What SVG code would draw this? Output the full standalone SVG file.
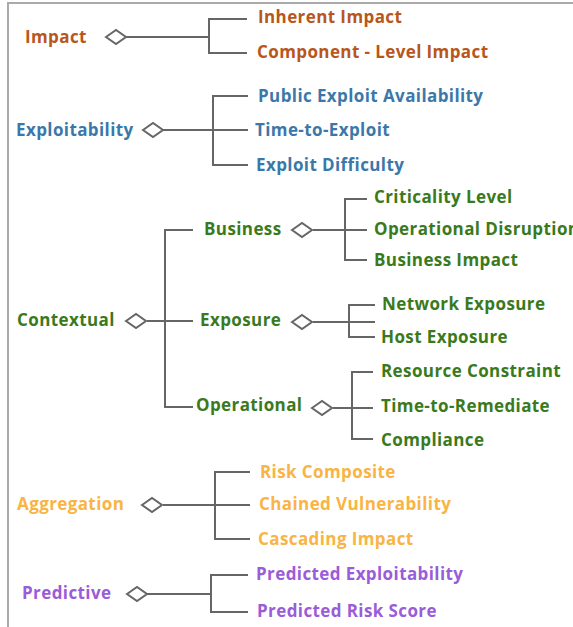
<svg xmlns="http://www.w3.org/2000/svg" width="573" height="627" viewBox="0 0 573 627">
<style>
text{font-family:"Open Sans",Lato,"Liberation Sans",sans-serif;font-weight:bold;font-size:17px;letter-spacing:0.4px;dominant-baseline:central}
.ln{fill:none;stroke:#666;stroke-width:2}
.dm{fill:#fff;stroke:#666;stroke-width:2}
.or{fill:#B8561C}.bl{fill:#3B78A9}.gr{fill:#3A7A1C}.ye{fill:#F8B444}.pu{fill:#9A5CD8}
</style>
<rect width="573" height="627" fill="#fff"/>
<path d="M8 627V3H573" fill="none" stroke="#aaa" stroke-width="2"/>
<g id="connectors">
<path class="ln" d="M126 37H209M247 19H209V53H247"/>
<path class="ln" d="M163 130H248M248 96H213V165H248"/>
<path class="ln" d="M147 321H193M193 230H165V407H193"/>
<path class="ln" d="M313 230H367M367 199H345V260H367"/>
<path class="ln" d="M313 322H375M375 305H349V337H375"/>
<path class="ln" d="M333 408H373M373 372H352V439H373"/>
<path class="ln" d="M163 505H250M250 472H215V539H250"/>
<path class="ln" d="M147 594H211M248 575H211V612H248"/>
</g>
<g id="impact"><text class="or" x="25" y="36">Impact</text><path class="dm" d="M106 37L116 30L126 37L116 44Z"/></g>
<g id="inherent-impact"><text class="or" x="258" y="16">Inherent Impact</text></g>
<g id="component-level-impact"><text class="or" x="257" y="51">Component - Level Impact</text></g>
<g id="exploitability"><text class="bl" x="16" y="129">Exploitability</text><path class="dm" d="M143 130L153 123L163 130L153 137Z"/></g>
<g id="public-exploit"><text class="bl" x="258" y="95">Public Exploit Availability</text></g>
<g id="time-to-exploit"><text class="bl" x="255" y="129">Time-to-Exploit</text></g>
<g id="exploit-difficulty"><text class="bl" x="256" y="164">Exploit Difficulty</text></g>
<g id="contextual"><text class="gr" x="17" y="319">Contextual</text><path class="dm" d="M126 321L136 314L146 321L136 328Z"/></g>
<g id="business"><text class="gr" x="204" y="228">Business</text><path class="dm" d="M292 230L302 223L312 230L302 237Z"/></g>
<g id="criticality"><text class="gr" x="374" y="196">Criticality Level</text></g>
<g id="operational-disruption"><text class="gr" x="374" y="228">Operational Disruption</text></g>
<g id="business-impact"><text class="gr" x="374" y="259">Business Impact</text></g>
<g id="exposure"><text class="gr" x="200" y="319">Exposure</text><path class="dm" d="M292 322L302 315L312 322L302 329Z"/></g>
<g id="network-exposure"><text class="gr" x="382" y="303">Network Exposure</text></g>
<g id="host-exposure"><text class="gr" x="381" y="336">Host Exposure</text></g>
<g id="operational"><text class="gr" x="196" y="404">Operational</text><path class="dm" d="M312 408L322 401L332 408L322 415Z"/></g>
<g id="resource-constraint"><text class="gr" x="381" y="370">Resource Constraint</text></g>
<g id="time-to-remediate"><text class="gr" x="381" y="405">Time-to-Remediate</text></g>
<g id="compliance"><text class="gr" x="381" y="439">Compliance</text></g>
<g id="aggregation"><text class="ye" x="17" y="503">Aggregation</text><path class="dm" d="M142 505L152 498L162 505L152 512Z"/></g>
<g id="risk-composite"><text class="ye" x="260" y="471">Risk Composite</text></g>
<g id="chained-vulnerability"><text class="ye" x="259" y="503">Chained Vulnerability</text></g>
<g id="cascading-impact"><text class="ye" x="258" y="538">Cascading Impact</text></g>
<g id="predictive"><text class="pu" x="22" y="592">Predictive</text><path class="dm" d="M127 594L137 587L147 594L137 601Z"/></g>
<g id="predicted-exploitability"><text class="pu" x="256" y="573">Predicted Exploitability</text></g>
<g id="predicted-risk-score"><text class="pu" x="257" y="610">Predicted Risk Score</text></g>
</svg>
